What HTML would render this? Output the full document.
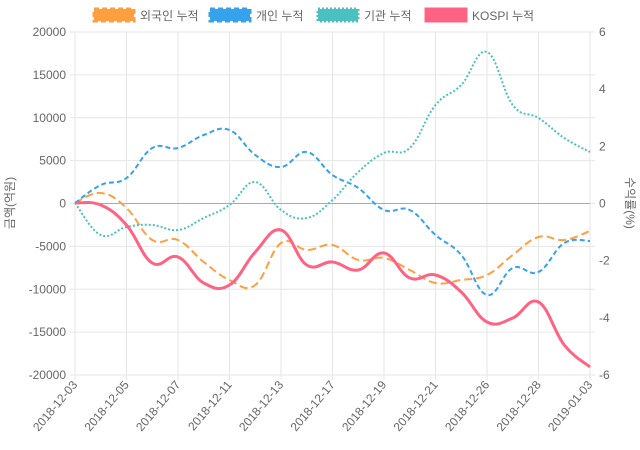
<!DOCTYPE html>
<html><head><meta charset="utf-8"><style>
body{margin:0;background:#fff;}
svg{display:block;font-family:"Liberation Sans","Noto Sans CJK KR",sans-serif;}
</style></head><body>
<svg id="c" width="640" height="450" xmlns="http://www.w3.org/2000/svg">
<g id="grid" stroke="#e6e6e6" stroke-width="1"></g>
<g id="lab" font-size="12" fill="#666"></g>
<line x1="75" y1="203.5" x2="590" y2="203.5" stroke="#aaa" stroke-width="1"/>
<g id="series" fill="none"></g>
<text x="14" y="203" font-size="12" fill="#666" text-anchor="middle" transform="rotate(-90 14 203)">금액(억원)</text>
<text x="626" y="203" font-size="12" fill="#666" text-anchor="middle" transform="rotate(90 626 203)">수익률(%)</text>
<g font-size="12" fill="#666">
<rect x="94" y="9" width="40" height="12" fill="#ff9f40" stroke="#ff9f40" stroke-width="3" stroke-dasharray="5,3"/>
<text x="140" y="20">외국인 누적</text>
<rect x="210" y="9" width="40" height="12" fill="#36a2eb" stroke="#36a2eb" stroke-width="3" stroke-dasharray="5,3"/>
<text x="256" y="20">개인 누적</text>
<rect x="318" y="9" width="40" height="12" fill="#4bc0c0" stroke="#4bc0c0" stroke-width="3" stroke-dasharray="2,2"/>
<text x="364" y="20">기관 누적</text>
<rect x="426" y="9" width="40" height="12" fill="#ff6384" stroke="#ff6384" stroke-width="3"/>
<text x="472" y="20">KOSPI 누적</text>
</g>
</svg>
<script>
var ns="http://www.w3.org/2000/svg";
function el(t,a,p){var e=document.createElementNS(ns,t);for(var k in a)e.setAttribute(k,a[k]);p.appendChild(e);return e;}
var g=document.getElementById('grid'),l=document.getElementById('lab'),s=document.getElementById('series');
var L=75,R=590,T=32,B=375;
for(var i=0;i<=8;i++){var y=T+(B-T)*i/8;el('line',{x1:L-5,y1:y,x2:R+5,y2:y},g);
 var t=el('text',{x:L-9,y:y+4,'text-anchor':'end'},l);t.textContent=20000-5000*i;}
for(var i=0;i<=6;i++){var y=T+(B-T)*i/6;var t=el('text',{x:R+9,y:y+4},l);t.textContent=6-2*i;}
var dates=["2018-12-03","2018-12-05","2018-12-07","2018-12-11","2018-12-13","2018-12-17","2018-12-19","2018-12-21","2018-12-26","2018-12-28","2019-01-03"];
for(var i=0;i<=10;i++){var x=L+(R-L)*i/10;el('line',{x1:x,y1:T,x2:x,y2:B+5},g);
 var t=el('text',{x:x+3,y:B+10,'text-anchor':'end',transform:'rotate(-50 '+(x+3)+' '+(B+10)+')'},l);t.textContent=dates[i];}
var D={
f:[203,193,208,240,240,262,280,285,243,250,245,260,258,270,283,280,275,255,237,240,231],
p:[203,185,178,148,148,135,130,155,167,152,175,188,210,210,235,255,295,268,272,243,241],
n:[203,235,227,225,230,218,205,182,210,218,200,172,153,148,105,85,52,105,118,138,152],
k:[203,205,225,263,257,283,285,252,230,265,262,270,253,278,275,292,322,318,302,345,367]};
function path(a){var P=a.map(function(y,i){return [L+(R-L)*i/20,y];});var d="M"+P[0];
for(var i=0;i<P.length-1;i++){var p0=P[i-1]||P[i],p1=P[i],p2=P[i+1],p3=P[i+2]||P[i+1],k=0.2;
d+=" C"+(p1[0]+(p2[0]-p0[0])*k)+","+(p1[1]+(p2[1]-p0[1])*k)+" "+(p2[0]-(p3[0]-p1[0])*k)+","+(p2[1]-(p3[1]-p1[1])*k)+" "+p2;}return d;}
el('path',{d:path(D.f),stroke:'#ff9f40','stroke-width':2,'stroke-dasharray':'8,4'},s);
el('path',{d:path(D.p),stroke:'#36a2eb','stroke-width':2,'stroke-dasharray':'5,3'},s);
el('path',{d:path(D.n),stroke:'#4bc0c0','stroke-width':2,'stroke-dasharray':'2,2'},s);
el('path',{d:path(D.k),stroke:'#ff6384','stroke-width':3},s);
</script>
</body></html>
